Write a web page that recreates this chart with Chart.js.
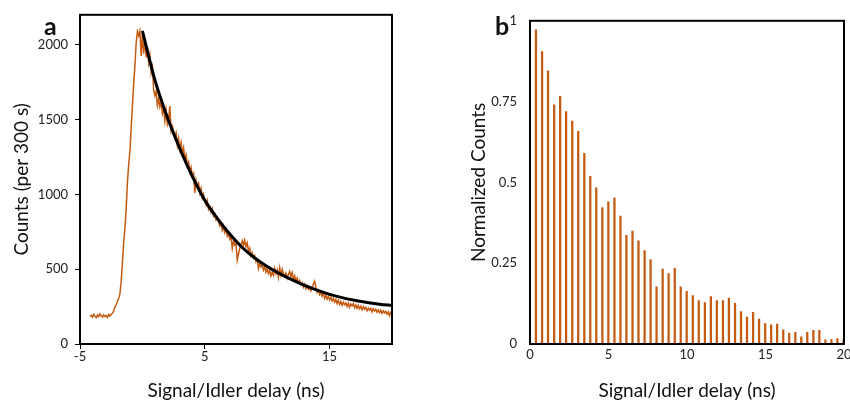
<!DOCTYPE html>
<html>
<head>
<meta charset="utf-8">
<script src="https://cdn.jsdelivr.net/npm/chart.js@4.4.1/dist/chart.umd.min.js"></script>
<style>
  html, body { margin: 0; padding: 0; background: #fff; overflow: hidden; }
  #wrap { position: relative; width: 850px; height: 404px; overflow: hidden; }
  canvas { position: absolute; top: 0; }
  #cvA { left: 0; }
  #cvB { left: 425px; }
  .tag { position: absolute; top: 13px; font: bold 25px Lato, sans-serif; line-height: 25px; color: #111; }
</style>
</head>
<body>
<div id="wrap">
  <canvas id="cvA" width="425" height="404"></canvas>
  <canvas id="cvB" width="440" height="404"></canvas>
  <div class="tag" style="left:44px">a</div>
  <div class="tag" style="left:495px">b</div>
</div>
<script>
// panel a: raw histogram, one value per 0.1 ns starting at -4.2 ns
const delayStart = -4.2;
const delayStep = 0.1;
const counts = [
  185, 192, 180,
  198, 186, 176, 194, 183, 201, 188, 179, 195, 184,
  190, 177, 196, 187, 199, 205, 222, 248, 262, 285,
  305, 335, 420, 545, 680, 770, 905, 1080, 1200, 1290,
  1440, 1590, 1735, 1860, 2010, 2088, 2060, 2092, 1925, 2075,
  1940, 2040, 1915, 1985, 1880, 1930, 1810, 1850, 1700, 1660,
  1690, 1595, 1640, 1585, 1615, 1540, 1575, 1490, 1560, 1470,
  1505, 1590, 1425, 1455, 1420, 1380, 1410, 1330, 1375, 1300,
  1345, 1270, 1310, 1235, 1265, 1190, 1215, 1150, 1180, 1120,
  1140, 1010, 1095, 1060, 1075, 1010, 1040, 975, 1000, 955,
  930, 960, 900, 915, 880, 905, 855, 870, 830, 845,
  815, 790, 805, 760, 790, 745, 770, 720, 735, 700,
  715, 640, 690, 660, 670, 560, 600, 640, 655, 690,
  660, 695, 650, 675, 620, 640, 590, 610, 575, 590,
  550, 565, 505, 540, 515, 530, 495, 520, 480, 505,
  470, 490, 455, 480, 460, 505, 470, 495, 445, 510,
  460, 500, 470, 455, 475, 440, 465, 485, 450, 478,
  430, 455, 420, 440, 410, 425, 395, 410, 380, 400,
  370, 390, 365, 378, 355, 372, 400, 420, 380, 345,
  360, 330, 348, 320, 338, 305, 325, 300, 318, 295,
  312, 288, 305, 280, 298, 270, 292, 265, 285, 258,
  280, 262, 275, 250, 272, 245, 268, 255, 270, 242,
  262, 238, 258, 235, 252, 228, 250, 232, 245, 222,
  240, 226, 238, 215, 235, 220, 232, 212, 228, 210,
  225, 205, 222, 208, 218, 200, 215, 188, 212, 205,
];
const fitDelay = [0, 1, 2, 3, 4, 5, 6, 7, 8, 9, 10, 11, 12, 13, 14, 15, 16, 17, 18, 19, 20];
const fitCounts = [2092, 1765, 1515, 1305, 1120, 960, 840, 735, 645, 575, 518, 470, 428, 392, 360, 332, 310, 292, 278, 266, 257];
const xTicksA = [-5, 5, 15];
const yTicksA = [0, 500, 1000, 1500, 2000];

// panel b: normalized counts per pulse
const barDelay = [
  0.38, 0.77, 1.15, 1.54, 1.92, 2.30, 2.69, 3.07, 3.46, 3.84,
  4.22, 4.61, 4.99, 5.38, 5.76, 6.14, 6.53, 6.91, 7.30, 7.68,
  8.06, 8.45, 8.83, 9.22, 9.60, 9.98, 10.37, 10.75, 11.14, 11.52,
  11.90, 12.29, 12.67, 13.06, 13.44, 13.82, 14.21, 14.59, 14.98, 15.36,
  15.74, 16.13, 16.51, 16.90, 17.28, 17.66, 18.05, 18.43, 18.82, 19.20,
  19.58, 19.97,
];
const barNorm = [
  0.972, 0.905, 0.845, 0.740, 0.766, 0.719, 0.690, 0.658, 0.590, 0.519,
  0.483, 0.422, 0.440, 0.452, 0.396, 0.336, 0.349, 0.319, 0.289, 0.261,
  0.177, 0.232, 0.218, 0.234, 0.177, 0.163, 0.150, 0.134, 0.128, 0.147,
  0.134, 0.134, 0.142, 0.126, 0.100, 0.083, 0.098, 0.077, 0.063, 0.059,
  0.062, 0.044, 0.034, 0.036, 0.022, 0.036, 0.042, 0.042, 0.013, 0.014,
  0.017, 0.012,
];
const xTicksB = [0, 5, 10, 15, 20];
const yTicksB = [0, 0.25, 0.5, 0.75, 1];

const ORANGE = "rgb(197, 90, 17)";
const FONT = "Lato, 'Open Sans', sans-serif";
const tickFont = { family: FONT, size: 13 };
const titleFont = { family: FONT, size: 19 };

// black box round the plot area, drawn over the data
const frame = {
  id: "frame",
  afterDraw(chart) {
    const { ctx, chartArea: a } = chart;
    ctx.save();
    ctx.strokeStyle = "#000";
    ctx.lineWidth = 2;
    ctx.strokeRect(a.left, a.top, a.right - a.left, a.bottom - a.top);
    ctx.restore();
  },
};

const fixTicks = (list) => (axis) => { axis.ticks = list.map((v) => ({ value: v })); };

new Chart(document.getElementById("cvA"), {
  type: "line",
  data: {
    datasets: [
      {
        data: fitDelay.map((d, i) => ({ x: d, y: fitCounts[i] })),
        borderColor: "#000",
        borderWidth: 3,
        pointRadius: 0,
        cubicInterpolationMode: "monotone",
        order: 1,
      },
      {
        data: counts.map((c, i) => ({ x: +(delayStart + i * delayStep).toFixed(2), y: c })),
        borderColor: ORANGE,
        borderWidth: 1.5,
        pointRadius: 0,
        tension: 0,
        order: 2,
      },
    ],
  },
  options: {
    responsive: false,
    animation: false,
    events: [],
    layout: { padding: { top: 13, right: 33, left: 0, bottom: 0 } },
    plugins: { legend: { display: false }, tooltip: { enabled: false } },
    scales: {
      x: {
        type: "linear",
        min: -5,
        max: 20,
        afterBuildTicks: fixTicks(xTicksA),
        afterFit: (s) => { s.height = 60; },
        grid: { drawOnChartArea: false, color: "#000", tickLength: 5 },
        border: { display: false },
        ticks: { color: "#222", font: tickFont, padding: 0, maxRotation: 0 },
        title: { display: true, text: "Signal/Idler delay (ns)", color: "#111", font: titleFont, padding: { top: 0, bottom: 2 } },
      },
      y: {
        type: "linear",
        min: 0,
        max: 2200,
        afterBuildTicks: fixTicks(yTicksA),
        afterFit: (s) => { s.width = 80; },
        grid: { drawOnChartArea: false, color: "#000", tickLength: 5 },
        border: { display: false },
        ticks: { color: "#222", font: tickFont, padding: 7, callback: (v) => String(v) },
        title: { display: true, text: "Counts (per 300 s)", color: "#111", font: titleFont, padding: { top: 10, bottom: 0 } },
      },
    },
  },
  plugins: [frame],
});

new Chart(document.getElementById("cvB"), {
  type: "bar",
  data: {
    datasets: [{
      data: barDelay.map((d, i) => ({ x: d, y: barNorm[i] })),
      backgroundColor: ORANGE,
      barThickness: 1.6,
    }],
  },
  options: {
    responsive: false,
    animation: false,
    events: [],
    layout: { padding: { top: 13, right: 21, left: 0, bottom: 0 } },
    plugins: { legend: { display: false }, tooltip: { enabled: false } },
    scales: {
      x: {
        type: "linear",
        min: 0,
        max: 20,
        offset: false,
        afterBuildTicks: fixTicks(xTicksB),
        afterFit: (s) => { s.height = 60; },
        grid: { drawOnChartArea: false, drawTicks: false, offset: false },
        border: { display: false },
        ticks: { color: "#222", font: tickFont, padding: 3, maxRotation: 0 },
        title: { display: true, text: "Signal/Idler delay (ns)", color: "#111", font: titleFont, padding: { top: 0, bottom: 2 } },
      },
      y: {
        type: "linear",
        min: 0,
        max: 1,
        afterBuildTicks: fixTicks(yTicksB),
        afterFit: (s) => { s.width = 105; },
        grid: { drawOnChartArea: false, drawTicks: false },
        border: { display: false },
        ticks: { color: "#222", font: tickFont, padding: 13, callback: (v) => String(v) },
        title: { display: true, text: "Normalized Counts", color: "#111", font: titleFont, padding: { top: 42, bottom: 0 } },
      },
    },
  },
  plugins: [frame],
});
</script>
</body>
</html>
